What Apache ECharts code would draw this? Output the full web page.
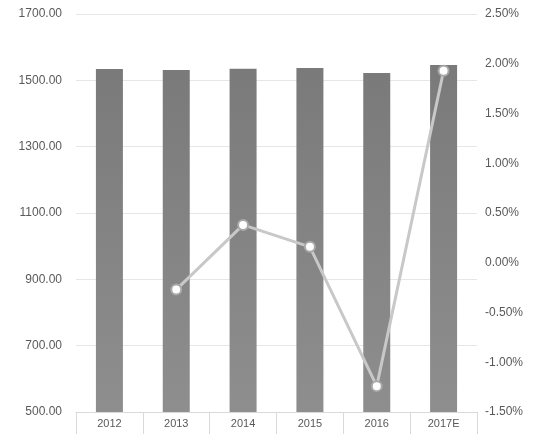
<!DOCTYPE html><html><head><meta charset="utf-8"><script src="https://cdn.jsdelivr.net/npm/echarts@6/dist/echarts.min.js"></script>
<style>html,body{margin:0;padding:0;background:#fff}#c{width:549px;height:443px}</style></head><body><div id="c"></div><script>
var categories=['2012','2013','2014','2015','2016','2017E'];
var volumes=[1534,1531,1535,1537,1522,1546];
var growth=[null,-0.27,0.38,0.16,-1.24,1.93];
var c=echarts.init(document.getElementById('c'));
c.setOption({animation:false,
grid:{left:76,right:72,top:14,bottom:31},
xAxis:{type:'category',data:categories,axisTick:{show:true,inside:false,length:22,lineStyle:{color:'#d9d9d9'}},axisLine:{onZero:false,lineStyle:{color:'#d9d9d9'}},axisLabel:{color:'#595959',fontSize:11,margin:6,fontFamily:'Liberation Sans'},splitLine:{show:false}},
yAxis:[{type:'value',min:500,max:1700,interval:200,axisLabel:{color:'#595959',fontSize:12,formatter:function(v){return v.toFixed(2)},fontFamily:'Liberation Sans',margin:14},splitLine:{lineStyle:{color:'#e6e6e6'}},axisLine:{show:false},axisTick:{show:false}},
{type:'value',min:-1.5,max:2.5,interval:0.5,axisLabel:{color:'#595959',fontSize:12,formatter:function(v){return v.toFixed(2)+'%'},fontFamily:'Liberation Sans',margin:8},splitLine:{show:false},axisLine:{show:false},axisTick:{show:false}}],
series:[{type:'bar',data:volumes,barWidth:27,itemStyle:{color:new echarts.graphic.LinearGradient(0,0,0,1,[{offset:0,color:'#7a7a7a'},{offset:1,color:'#8e8e8e'}])}},
{type:'line',yAxisIndex:1,data:growth,connectNulls:false,lineStyle:{color:'#c8c8c8',width:3},symbol:'circle',symbolSize:10,itemStyle:{color:'#ffffff',borderColor:'#a8a8a8',borderWidth:2}}]});
</script></body></html>
